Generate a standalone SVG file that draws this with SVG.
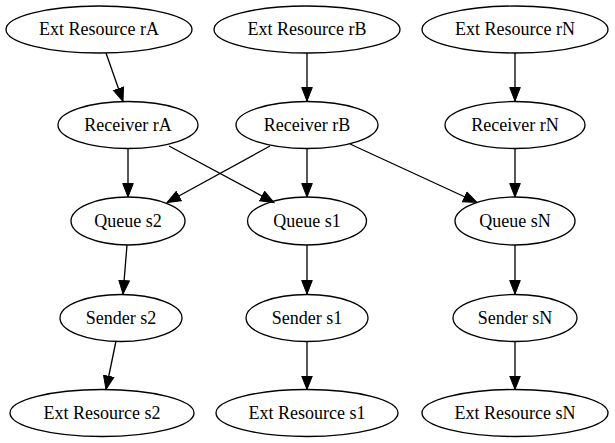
<svg xmlns="http://www.w3.org/2000/svg" width="615" height="443" viewBox="0 0 615 443">
<style>
  .node ellipse { fill: none; stroke: #000; stroke-width: 1.33; }
  .node text { font-family: "Liberation Serif", "Times New Roman", serif; font-size: 18px; fill: #000; text-anchor: middle; }
  #edges line { stroke: #000; stroke-width: 1.33; marker-end: url(#arrow); }
</style>
<defs>
  <marker id="arrow" markerUnits="userSpaceOnUse" markerWidth="15" markerHeight="13" refX="14" refY="6" orient="auto" viewBox="0 0 15 12">
    <path d="M0.5,0.7 L14,6 L0.5,11.3 Z" fill="#000" stroke="#000" stroke-width="1"/>
  </marker>
</defs>
<rect width="615" height="443" fill="#fff"/>
<g id="edges">
  <line x1="106" y1="53" x2="123" y2="101.5"/>
  <line x1="307" y1="53" x2="307" y2="101"/>
  <line x1="515" y1="53" x2="515" y2="101"/>
  <line x1="128" y1="149" x2="128" y2="197"/>
  <line x1="169" y1="146" x2="274" y2="202.5"/>
  <line x1="270" y1="146" x2="167" y2="202.5"/>
  <line x1="307" y1="149" x2="307" y2="197"/>
  <line x1="350" y1="144" x2="477" y2="202.5"/>
  <line x1="515" y1="149" x2="515" y2="197"/>
  <line x1="127" y1="245" x2="123" y2="294"/>
  <line x1="307" y1="245" x2="307" y2="294"/>
  <line x1="515" y1="245" x2="515" y2="294"/>
  <line x1="116" y1="341" x2="106" y2="389.5"/>
  <line x1="307" y1="341" x2="307" y2="389.5"/>
  <line x1="515" y1="341" x2="515" y2="389.5"/>
</g>
<g id="ext_rA" class="node"><ellipse cx="99" cy="29.5" rx="93" ry="23.5"/><text x="99" y="35">Ext Resource rA</text></g>
<g id="ext_rB" class="node"><ellipse cx="307" cy="29.5" rx="93" ry="23.5"/><text x="307" y="35">Ext Resource rB</text></g>
<g id="ext_rN" class="node"><ellipse cx="515" cy="29.5" rx="93" ry="23.5"/><text x="515" y="35">Ext Resource rN</text></g>
<g id="recv_rA" class="node"><ellipse cx="128" cy="125" rx="70" ry="23.5"/><text x="128" y="131">Receiver rA</text></g>
<g id="recv_rB" class="node"><ellipse cx="307" cy="125" rx="71" ry="23.5"/><text x="307" y="131">Receiver rB</text></g>
<g id="recv_rN" class="node"><ellipse cx="515" cy="125" rx="70" ry="23.5"/><text x="515" y="131">Receiver rN</text></g>
<g id="queue_s2" class="node"><ellipse cx="128" cy="221" rx="57" ry="24"/><text x="128" y="227">Queue s2</text></g>
<g id="queue_s1" class="node"><ellipse cx="307" cy="221" rx="59.5" ry="24"/><text x="307" y="227">Queue s1</text></g>
<g id="queue_sN" class="node"><ellipse cx="515" cy="221" rx="60" ry="24"/><text x="515" y="227">Queue sN</text></g>
<g id="sender_s2" class="node"><ellipse cx="121" cy="318" rx="61" ry="23.5"/><text x="121" y="324">Sender s2</text></g>
<g id="sender_s1" class="node"><ellipse cx="307" cy="318" rx="61" ry="23.5"/><text x="307" y="324">Sender s1</text></g>
<g id="sender_sN" class="node"><ellipse cx="515" cy="318" rx="62" ry="23.5"/><text x="515" y="324">Sender sN</text></g>
<g id="ext_s2" class="node"><ellipse cx="102" cy="413" rx="92" ry="23.5"/><text x="102" y="419">Ext Resource s2</text></g>
<g id="ext_s1" class="node"><ellipse cx="307" cy="413" rx="91" ry="23.5"/><text x="307" y="419">Ext Resource s1</text></g>
<g id="ext_sN" class="node"><ellipse cx="515" cy="413" rx="93" ry="23.5"/><text x="515" y="419">Ext Resource sN</text></g>
</svg>
